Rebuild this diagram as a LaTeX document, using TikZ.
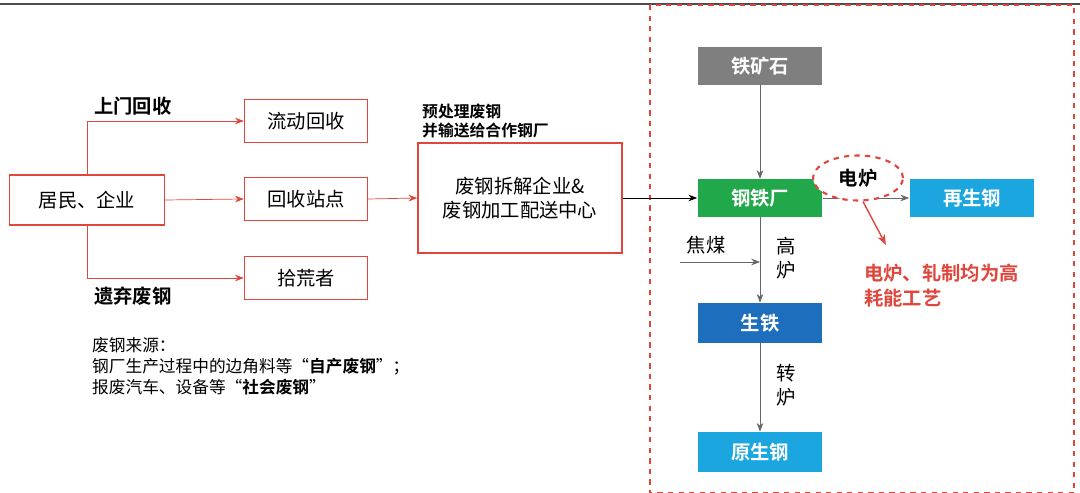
\documentclass[tikz,border=0pt]{standalone}
\usepackage{fontspec}
\setmainfont{Noto Sans CJK SC}[BoldFont={Noto Sans CJK SC Bold}]
\usetikzlibrary{positioning}
\usetikzlibrary{arrows.meta}
\usetikzlibrary{shapes.geometric}
\definecolor{ironGray}{HTML}{7F7F7F}
\definecolor{millGreen}{HTML}{21A84A}
\definecolor{steelCyan}{HTML}{1CA6E0}
\definecolor{pigBlue}{HTML}{1E6EBE}
\definecolor{lineRed}{HTML}{E0463C}
\begin{document}
\begin{tikzpicture}[x=0.02cm,y=-0.02cm,font=\fontsize{11}{14}\selectfont,
  redbox/.style={draw=lineRed, thick, minimum width=2.46cm, minimum height=0.85cm},
  fillbox/.style={fill=#1, text=white, font=\fontsize{11}{13}\selectfont\bfseries, minimum width=2.5cm, minimum height=0.75cm},
  redarrow/.style={draw=lineRed, -{Stealth[length=5pt]}},
  grayarrow/.style={draw=gray!80!black, -{Stealth[length=5pt]}}]
 % frame
 \useasboundingbox (0,0) rectangle (1080,493);
 \draw[gray!60!black, thick] (0,4) -- (1080,4);
 \draw[lineRed, dashed, thick] (650,5) rectangle (1074,493);

 % recycling side
 \node[redbox, minimum width=3.1cm, minimum height=1cm] (users) at (87,200) {居民、企业};
 \node[redbox] (mobile) at (306,121) {流动回收};
 \node[redbox] (station) at (306,199) {回收站点};
 \node[redbox] (picker) at (306,278) {拾荒者};
 \node[redbox, minimum width=4.08cm, minimum height=2.2cm, align=center] (center) at (520,198) {废钢拆解企业\&\\废钢加工配送中心};

 \draw[redarrow] (users.north) |- (mobile.west);
 \draw[redarrow] (users.east) -- (station.west);
 \draw[redarrow] (users.south) |- (picker.west);
 \draw[redarrow] (station.east) -- (center.west);

 \node[font=\fontsize{11}{13}\selectfont\bfseries, anchor=west] (door) at (88,106) {上门回收};
 \node[font=\fontsize{11}{13}\selectfont\bfseries, anchor=west] (abandon) at (88,296) {遗弃废钢};
 \node[font=\fontsize{9}{11}\selectfont\bfseries, anchor=west, align=left] (pretreat) at (416,121) {预处理废钢\\并输送给合作钢厂};
 \node[font=\fontsize{9.5}{12}\selectfont, anchor=west, align=left] (source) at (86,366)
   {废钢来源：\\钢厂生产过程中的边角料等“\textbf{自产废钢}”；\\报废汽车、设备等“\textbf{社会废钢}”};

 % steel mill side
 \node[fillbox=ironGray] (ore) at (760,66) {铁矿石};
 \node[fillbox=millGreen] (mill) at (760,198) {钢铁厂};
 \node[fillbox=steelCyan] (recycled) at (972,198) {再生钢};
 \node[fillbox=pigBlue, minimum height=0.8cm] (pig) at (760,323) {生铁};
 \node[fillbox=steelCyan, minimum height=0.8cm] (crude) at (760,452) {原生钢};

 \draw[-{Stealth[length=5pt]}] (center.east) -- (mill.west);
 \draw[grayarrow] (ore) -- (mill);
 \draw[grayarrow] (mill) -- (pig);
 \draw[grayarrow] (pig) -- (crude);
 \draw[grayarrow] (mill) -- (recycled);

 \coordinate (coalstart) at (680,262);
 \coordinate (coalend) at (760,262);
 \draw[grayarrow] (coalstart) -- (coalend);
 \node (coal) at (706,245) {焦煤};
 \node[align=center] (blast) at (786,258) {高\\炉};
 \node[align=center] (converter) at (786,385) {转\\炉};

 \node[draw=lineRed, dashed, very thick, ellipse, minimum width=1.8cm, minimum height=0.9cm, inner sep=0pt, fill=white] (arc) at (858,178) {\bfseries 电炉};
 \coordinate (notetip) at (886,245);
 \draw[lineRed, thick, -{Stealth[length=6pt]}] (arc.south) ++(5,0) -- (notetip);
 \node[text=lineRed, font=\fontsize{11}{14}\selectfont\bfseries, anchor=north west, align=left] (note) at (858,258) {电炉、轧制均为高\\耗能工艺};
\end{tikzpicture}
\end{document}
